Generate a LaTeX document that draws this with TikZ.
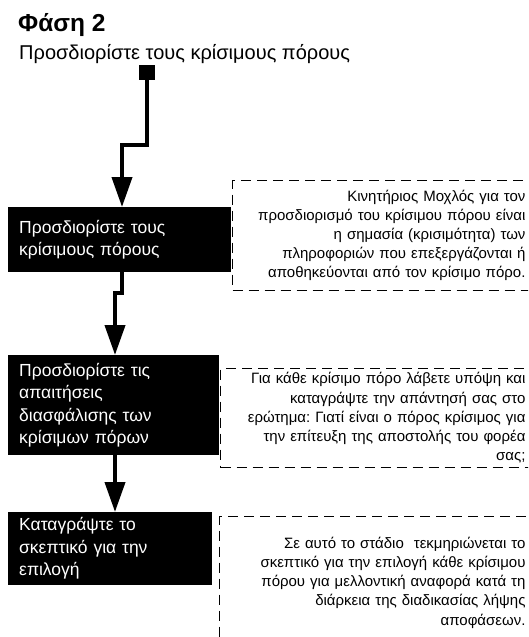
\documentclass[tikz,border=0pt]{standalone}
\usepackage{fontspec}
\setmainfont{Liberation Sans}
\usetikzlibrary{arrows.meta}
\frenchspacing

\begin{document}
\begin{tikzpicture}[x=1pt, y=-1pt,
  stepbox/.style={fill=black, text=white, anchor=north west, align=left, inner xsep=11pt, font=\fontsize{17.5}{22.5}\selectfont},
  notebox/.style={draw, dash pattern=on 10pt off 6pt, line width=1pt, anchor=north west, align=right, inner xsep=5pt, font=\fontsize{15}{19.2}\selectfont},
  flow/.style={line width=4pt, -{Triangle[width=20pt,length=30pt]}}]
\clip (0,0) rectangle (528,637);
\useasboundingbox (0,0) rectangle (528,637);

\node[anchor=base west, font=\bfseries\fontsize{24.5}{28}\selectfont, inner sep=0] (title) at (18,31.5) {Φάση 2};
\node[anchor=base west, font=\fontsize{20}{24}\selectfont, inner sep=0] (sub) at (19,59.5) {Προσδιορίστε τους κρίσιμους πόρους};
\node[fill=black, minimum width=16pt, minimum height=15pt, inner sep=0] (start) at (147,72.5) {};

\node[stepbox, text width=201pt, minimum height=65pt] (s1) at (8,207) {Προσδιορίστε τους\\κρίσιμους πόρους};
\node[stepbox, text width=189pt, minimum height=100pt] (s2) at (8,355) {Προσδιορίστε τις\\απαιτήσεις\\διασφάλισης των\\κρίσιμων πόρων};
\node[stepbox, text width=182pt, minimum height=73pt] (s3) at (8,512) {Καταγράψτε το\\σκεπτικό για την\\επιλογή};

\node[notebox, text width=288pt, minimum height=110pt] (n1) at (232,180) {Κινητήριος Μοχλός για τον\\προσδιορισμό του κρίσιμου πόρου είναι\\η σημασία (κρισιμότητα) των\\πληροφοριών που επεξεργάζονται ή\\αποθηκεύονται από τον κρίσιμο πόρο.};
\node[notebox, text width=300pt, minimum height=99pt] (n2) at (220,368) {Για κάθε κρίσιμο πόρο λάβετε υπόψη και\\καταγράψτε την απάντησή σας στο\\ερώτημα: Γιατί είναι ο πόρος κρίσιμος για\\την επίτευξη της αποστολής του φορέα\\σας;};
\node[notebox, text width=301pt, minimum height=132pt] (n3) at (219,516) {Σε αυτό το στάδιο~ τεκμηριώνεται το\\σκεπτικό για την επιλογή κάθε κρίσιμου\\πόρου για μελλοντική αναφορά κατά τη\\διάρκεια της διαδικασίας λήψης\\αποφάσεων.};

\coordinate (j1) at (147,145);
\coordinate (j2) at (122,145);
\coordinate (j3) at (122,293);
\coordinate (j4) at (115,293);

\draw[flow] (start.south) -- (j1) -- (j2) -- (j2 |- s1.north);
\draw[flow] (j3 |- s1.south) -- (j3) -- (j4) -- (j4 |- s2.north);
\draw[flow] (j4 |- s2.south) -- (j4 |- s3.north);
\end{tikzpicture}
\end{document}
